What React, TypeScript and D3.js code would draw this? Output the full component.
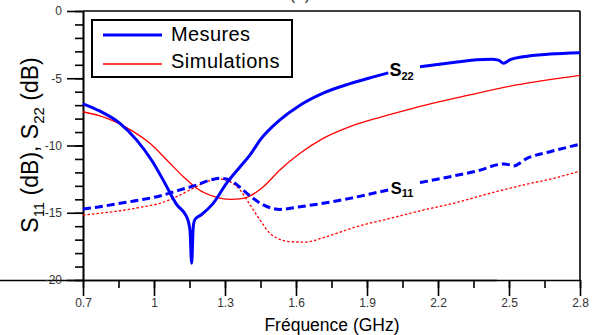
import React, { useEffect, useRef } from "react";
import * as d3 from "d3";

// ---- Data ----
const s22MeasF = [0.7, 0.772, 0.856, 0.927, 0.99, 1.046, 1.096, 1.138, 1.152, 1.159, 1.166, 1.173, 1.2, 1.25, 1.307, 1.363, 1.406, 1.448, 1.532, 1.617, 1.715, 1.828, 1.927, 1.99, 2.124, 2.28, 2.364, 2.427, 2.455, 2.477, 2.505, 2.56, 2.673, 2.8];
const s22MeasDb = [-6.9, -7.45, -8.35, -9.6, -11.1, -12.8, -14.4, -15.3, -16.3, -18.75, -16.0, -15.5, -15.15, -14.3, -12.8, -11.6, -10.7, -9.6, -8.1, -7.0, -6.1, -5.4, -4.9, -4.6, -4.15, -3.8, -3.62, -3.58, -3.65, -3.88, -3.62, -3.4, -3.2, -3.1];

const s11MeasF = [0.7, 0.772, 0.856, 0.941, 1.025, 1.11, 1.18, 1.237, 1.279, 1.321, 1.363, 1.406, 1.462, 1.532, 1.617, 1.715, 1.828, 1.927, 1.99, 2.124, 2.251, 2.364, 2.477, 2.505, 2.519, 2.576, 2.673, 2.8];
const s11MeasDb = [-14.72, -14.55, -14.3, -14.05, -13.75, -13.3, -12.94, -12.57, -12.44, -12.57, -13.1, -13.75, -14.42, -14.75, -14.55, -14.3, -13.93, -13.55, -13.3, -12.76, -12.32, -11.9, -11.38, -11.45, -11.52, -10.95, -10.46, -9.91];

const s22SimF = [0.7, 0.772, 0.842, 0.913, 0.983, 1.054, 1.124, 1.18, 1.265, 1.321, 1.378, 1.406, 1.462, 1.532, 1.617, 1.715, 1.828, 1.955, 2.09, 2.32, 2.531, 2.8];
const s22SimDb = [-7.49, -7.8, -8.28, -8.97, -9.84, -11.08, -12.32, -13.18, -13.85, -14.0, -13.93, -13.75, -13.06, -11.82, -10.58, -9.47, -8.6, -7.9, -7.25, -6.3, -5.5, -4.78];

const s11SimF = [0.7, 0.772, 0.856, 0.941, 1.025, 1.096, 1.166, 1.223, 1.279, 1.321, 1.363, 1.406, 1.448, 1.49, 1.532, 1.575, 1.642, 1.715, 1.856, 1.997, 2.138, 2.28, 2.42, 2.56, 2.7, 2.8];
const s11SimDb = [-15.17, -15.04, -14.85, -14.6, -14.3, -13.8, -13.18, -12.69, -12.49, -12.69, -13.3, -14.42, -15.54, -16.53, -16.98, -17.15, -17.18, -16.85, -16.04, -15.42, -14.8, -14.23, -13.55, -12.94, -12.39, -11.9];

const xMajorTicks = [0.7, 1, 1.3, 1.6, 1.9, 2.2, 2.5, 2.8];
const xTickLabels = ["0.7", "1", "1.3", "1.6", "1.9", "2.2", "2.5", "2.8"];
const yMajorTicks = [0, -5, -10, -15, -20];
const yTickLabels = ["0", "-5", "-10", "-15", "-20"];
const legendLabels = ["Mesures", "Simulations"];
const labelGap = [1.99, 2.124]; // measured curves are interrupted under the S22 / S11 labels

const W = 593, H = 335;
const M = { left: 83, right: 580, top: 11, bottom: 280 };
const FONT = "Arial, 'Liberation Sans', sans-serif";
const BLUE = "#0000ff";
const RED = "#ff0000";

export default function App() {
  const xAxisRef = useRef<SVGGElement>(null);
  const yAxisRef = useRef<SVGGElement>(null);

  const x = d3.scaleLinear().domain([0.7, 2.8]).range([M.left, M.right]);
  const y = d3.scaleLinear().domain([0, -20]).range([M.top, M.bottom]);

  const line = d3
    .line<[number, number]>()
    .x((d) => x(d[0]))
    .y((d) => y(d[1]))
    .curve(d3.curveMonotoneX);

  const zip = (f: number[], v: number[]) => f.map((d, i) => [d, v[i]] as [number, number]);
  const before = (pts: [number, number][]) => pts.filter((p) => p[0] <= labelGap[0]);
  const after = (pts: [number, number][]) => pts.filter((p) => p[0] >= labelGap[1]);

  const s22m = zip(s22MeasF, s22MeasDb);
  const s11m = zip(s11MeasF, s11MeasDb);

  useEffect(() => {
    const xMinor = d3.range(0, 15).map((i) => 0.7 + i * 0.15);
    const yMinor = d3.range(0, 21).map((i) => -i);
    const gx = d3.select(xAxisRef.current);
    gx.selectAll("*").remove();
    gx.append("g").call(
      d3.axisBottom(x).tickValues(xMinor).tickSize(8).tickSizeOuter(0).tickFormat(() => "")
    );
    gx.append("g").call(
      d3
        .axisBottom(x)
        .tickValues(xMajorTicks)
        .tickSize(16)
        .tickSizeOuter(0)
        .tickPadding(2)
        .tickFormat((d, i) => xTickLabels[i])
    );
    const gy = d3.select(yAxisRef.current);
    gy.selectAll("*").remove();
    gy.append("g").call(
      d3.axisLeft(y).tickValues(yMinor).tickSize(8).tickSizeOuter(0).tickFormat(() => "")
    );
    gy.append("g").call(
      d3
        .axisLeft(y)
        .tickValues(yMajorTicks)
        .tickSize(16)
        .tickSizeOuter(0)
        .tickPadding(5)
        .tickFormat((d, i) => yTickLabels[i])
    );
    [gx, gy].forEach((g) => {
      g.selectAll("path.domain").attr("stroke", "#000").attr("stroke-width", 1.6);
      g.selectAll(".tick line").attr("stroke", "#000").attr("stroke-width", 1.6);
      g.selectAll(".tick text")
        .attr("fill", "#333")
        .style("font-family", FONT)
        .style("font-size", "12px");
    });
    gx.select("path.domain").attr("d", `M${-16},0.5H${M.right - M.left}`);
  }, []);

  return (
    <svg
      width={W}
      height={H}
      style={{ position: "absolute", left: 0, top: 0, background: "#fff" }}
      fontFamily={FONT}
    >
      <rect width={W} height={H} fill="#fff" />
      <text x={300} y={-0.5} textAnchor="middle" fontSize={17} fill="#333">
        (a)
      </text>

      {/* frame */}
      <line x1={M.left} x2={M.right} y1={M.top} y2={M.top} stroke="#000" strokeWidth={1.6} />
      <line x1={M.right} x2={M.right} y1={M.top} y2={M.bottom} stroke="#000" strokeWidth={1.6} />

      <g ref={xAxisRef} transform={`translate(0,${M.bottom})`} />
      <g ref={yAxisRef} transform={`translate(${M.left},0)`} />

      {/* simulations */}
      <path d={line(zip(s22SimF, s22SimDb)) || ""} fill="none" stroke={RED} strokeWidth={1.3} />
      <path
        d={line(zip(s11SimF, s11SimDb)) || ""}
        fill="none"
        stroke={RED}
        strokeWidth={1.3}
        strokeDasharray="2.5,2"
      />

      {/* measurements */}
      <path d={line(before(s22m)) || ""} fill="none" stroke={BLUE} strokeWidth={3} />
      <path d={line(after(s22m)) || ""} fill="none" stroke={BLUE} strokeWidth={3} />
      <path d={line(before(s11m)) || ""} fill="none" stroke={BLUE} strokeWidth={3} strokeDasharray="8,4" />
      <path d={line(after(s11m)) || ""} fill="none" stroke={BLUE} strokeWidth={3} strokeDasharray="8,4" />

      {/* curve labels */}
      <text x={x(1.995)} y={76} fontWeight="bold" fontSize={18} fill="#000">
        S<tspan fontSize={11} dy={4}>22</tspan>
      </text>
      <text x={x(2.0)} y={193.5} fontWeight="bold" fontSize={16.5} fill="#000">
        S<tspan fontSize={11} dy={3}>11</tspan>
      </text>

      {/* legend */}
      <rect x={92} y={20} width={200} height={57} fill="#fff" stroke="#000" strokeWidth={2} />
      <line x1={103} x2={162} y1={35} y2={35} stroke={BLUE} strokeWidth={3} />
      <line x1={103} x2={162} y1={64} y2={64} stroke={RED} strokeWidth={1.3} />
      <text x={171} y={41} fontSize={20} letterSpacing={0.4} fill="#000">
        {legendLabels[0]}
      </text>
      <text x={171} y={68} fontSize={20} letterSpacing={0.5} fill="#000">
        {legendLabels[1]}
      </text>

      {/* axis titles */}
      <text x={332} y={331} textAnchor="middle" fontSize={17.5} fill="#000">
        Fréquence (GHz)
      </text>
      <text
        transform="translate(38,145) rotate(-90)"
        textAnchor="middle"
        fontSize={23}
        fill="#000"
      >
        S<tspan fontSize={15} dy={6}>11</tspan>
        <tspan dy={-6}> (dB), S</tspan>
        <tspan fontSize={15} dy={6}>22</tspan>
        <tspan dy={-6}> (dB)</tspan>
      </text>
    </svg>
  );
}
